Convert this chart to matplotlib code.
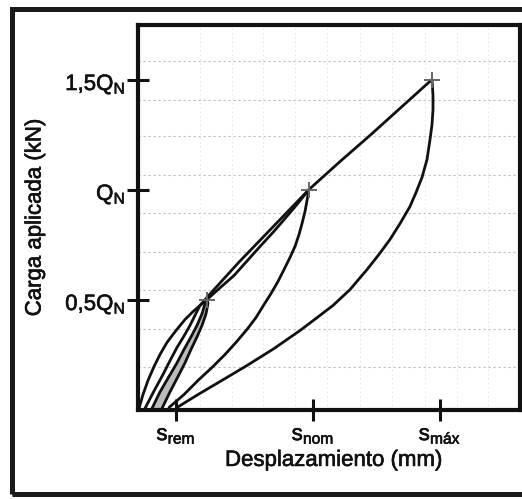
"""
Load-displacement diagram (scanned test sketch): loading/unloading loops
to 0.5 Q_N, Q_N and 1.5 Q_N.

Produces:
  out.png
"""
import matplotlib
matplotlib.use("Agg")
import matplotlib.pyplot as plt
import matplotlib.patheffects as pe
import matplotlib.transforms as mtransforms
from matplotlib import rcParams
from matplotlib.patches import Rectangle

rcParams.update({
    "font.family": "sans-serif",
    "font.sans-serif": ["Liberation Sans", "DejaVu Sans"],
    "font.size": 16,
    "mathtext.fontset": "custom",
    "mathtext.rm": "Liberation Sans",
    "mathtext.it": "Liberation Sans:italic",
    "mathtext.bf": "Liberation Sans:bold",
    "axes.linewidth": 3.0,
})

INK = "#111111"
GRID = "#bdbdbd"
# scanned print: letters look a little heavier than the regular face
HEAVY = [pe.withStroke(linewidth=0.45, foreground=INK)]

# axis ticks (displacement in mm-ish units, load in units of Q_N)
X_TICKS = [0.38, 1.75, 3.02]
X_TICK_LABELS = [r"s$_{\mathrm{rem}}$", r"s$_{\mathrm{nom}}$", r"s$_{\mathrm{máx}}$"]
Y_TICKS = [0.5, 1.0, 1.5]
Y_TICK_LABELS = [r"0,5Q$_{\mathrm{N}}$", r"Q$_{\mathrm{N}}$", r"1,5Q$_{\mathrm{N}}$"]

# faint graph-paper lines in the scan
GRID_Y = [0.195, 0.364, 0.545, 0.714, 0.895, 1.068, 1.241, 1.409, 1.582]
GRID_X = [0.62, 0.94, 1.25, 1.57, 1.89, 2.22, 2.54, 2.87, 3.19, 3.50]

# first loading up to 0.5 Q_N
L1_X = [0.01, 0.05, 0.10, 0.16, 0.22, 0.29, 0.38, 0.47, 0.55, 0.62, 0.69]
L1_Y = [0.005, 0.068, 0.132, 0.195, 0.250, 0.305, 0.359, 0.409, 0.445, 0.473, 0.500]

# lens around the 0.5 Q_N point: unloading 1 and lower part of loading 2
LENS_Y = [0.005, 0.080, 0.150, 0.212, 0.273, 0.330, 0.382, 0.435, 0.482, 0.500]
U1_X = [0.24, 0.32, 0.40, 0.47, 0.53, 0.59, 0.64, 0.68, 0.70, 0.69]
L2_LOW_X = [0.14, 0.22, 0.31, 0.39, 0.46, 0.53, 0.59, 0.64, 0.67, 0.69]

# loading 2 from 0.5 Q_N up to Q_N
L2_HIGH_X = [0.69, 0.82, 0.96, 1.09, 1.22, 1.35, 1.47, 1.59, 1.71]
L2_HIGH_Y = [0.500, 0.553, 0.609, 0.675, 0.741, 0.805, 0.868, 0.932, 1.000]

# loading 3 up to 1.5 Q_N
L3_X = [0.07, 0.16, 0.25, 0.32, 0.39, 0.46, 0.52, 0.57, 0.62, 0.75, 0.88,
        1.01, 1.15, 1.29, 1.43, 1.57, 1.71, 2.02, 2.33, 2.64, 2.94]
L3_Y = [0.005, 0.084, 0.159, 0.222, 0.282, 0.334, 0.382, 0.428, 0.473, 0.540,
        0.605, 0.670, 0.736, 0.802, 0.868, 0.934, 1.000, 1.127, 1.250, 1.377, 1.500]

# unloading from Q_N
U2_X = [1.71, 1.69, 1.67, 1.64, 1.61, 1.57, 1.52, 1.46, 1.40, 1.33, 1.26,
        1.18, 1.09, 0.98, 0.87, 0.74, 0.60, 0.46, 0.31]
U2_Y = [1.000, 0.950, 0.900, 0.845, 0.795, 0.741, 0.691, 0.636, 0.582, 0.527,
        0.477, 0.418, 0.364, 0.305, 0.250, 0.191, 0.132, 0.068, 0.009]

# unloading from 1.5 Q_N back to s_rem
U3_X = [2.94, 2.95, 2.95, 2.94, 2.92, 2.89, 2.84, 2.78, 2.72, 2.62, 2.52, 2.41,
        2.29, 2.12, 1.95, 1.78, 1.62, 1.36, 1.09, 0.82, 0.60, 0.39]
U3_Y = [1.500, 1.427, 1.364, 1.295, 1.227, 1.136, 1.055, 0.986, 0.923, 0.845,
        0.773, 0.705, 0.636, 0.545, 0.473, 0.414, 0.359, 0.277, 0.200, 0.127,
        0.068, 0.009]

# peak markers
PEAK_X = [0.69, 1.71, 2.94]
PEAK_Y = [0.5, 1.0, 1.5]


def plot():
    fig = plt.figure(figsize=(5.22, 4.99), dpi=100)
    ax = fig.add_axes([138 / 522, 89.5 / 499, 382 / 522, 385 / 499])

    # outer frame of the scanned figure (right edge is cut off)
    fig.patches.append(Rectangle((12 / 522, 5 / 499), 1.2, 485 / 499,
                                 transform=fig.transFigure, fill=False,
                                 edgecolor="#1a1a1a", linewidth=3.6))

    for gy in GRID_Y:
        ax.axhline(gy, color=GRID, linewidth=0.8, linestyle=(0, (2, 2.5)), zorder=0)
    for gx in GRID_X:
        ax.axvline(gx, color="#e4e4e4", linewidth=0.7, linestyle=(0, (1.5, 3)), zorder=0)

    lw = 2.0
    ax.fill_betweenx(LENS_Y, L2_LOW_X, U1_X, color="#bcbcbc", linewidth=0, zorder=1)
    for xs, ys in ((L1_X, L1_Y), (U1_X, LENS_Y), (L2_LOW_X, LENS_Y),
                   (L2_HIGH_X, L2_HIGH_Y), (L3_X, L3_Y), (U2_X, U2_Y), (U3_X, U3_Y)):
        ax.plot(xs, ys, color=INK, linewidth=lw, solid_capstyle="round",
                solid_joinstyle="round")
    ax.plot(PEAK_X, PEAK_Y, linestyle="none", marker="+", markersize=11,
            markeredgewidth=1.4, color="#666666", zorder=4)

    ax.set_xlim(0, 3.82)
    ax.set_ylim(0, 1.75)
    for s in ax.spines.values():
        s.set_color(INK)

    ax.set_xticks(X_TICKS)
    ax.set_xticklabels(X_TICK_LABELS)
    ax.set_yticks(Y_TICKS)
    ax.set_yticklabels(Y_TICK_LABELS)
    ax.tick_params(direction="inout", length=16, width=2.2, color=INK)
    ax.tick_params(axis="y", pad=1)
    ax.tick_params(axis="x", pad=3)
    # y labels sit slightly below their ticks in the scan
    shift = mtransforms.ScaledTranslation(0, -4 / 72, fig.dpi_scale_trans)
    for lab in ax.get_yticklabels():
        lab.set_verticalalignment("center")
        lab.set_transform(lab.get_transform() + shift)

    ax.set_xlabel("Desplazamiento (mm)")
    ax.set_ylabel("Carga aplicada (kN)")
    ax.xaxis.set_label_coords(0.513, -0.105)
    ax.yaxis.set_label_coords(-0.242, 0.5)

    for t in ax.get_xticklabels() + ax.get_yticklabels() + [ax.xaxis.label, ax.yaxis.label]:
        t.set_color(INK)
        t.set_path_effects(HEAVY)

    fig.savefig("out.png", dpi=100, facecolor="white")
    plt.close(fig)


if __name__ == "__main__":
    plot()
